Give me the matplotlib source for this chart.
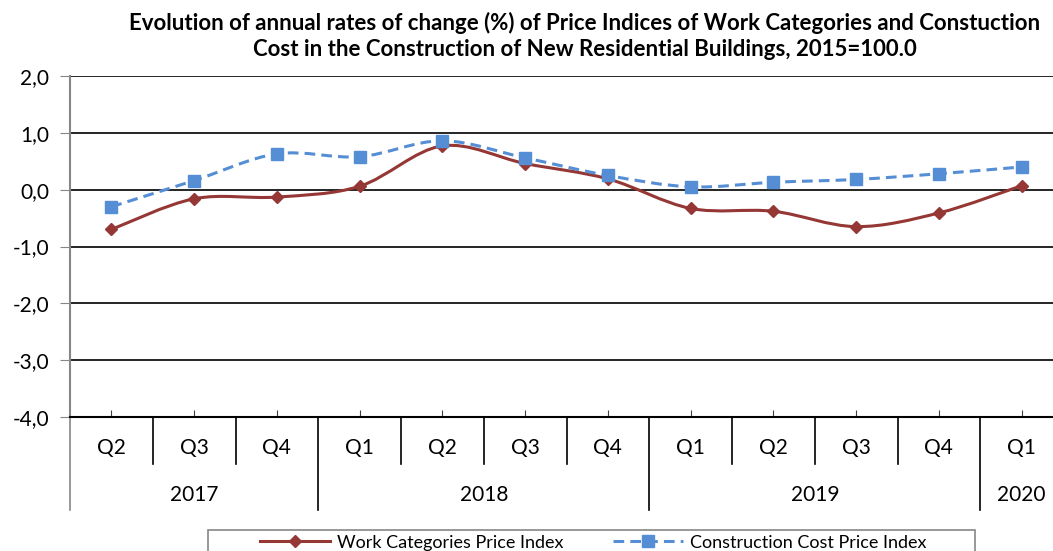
import numpy as np
import matplotlib
matplotlib.use("Agg")
import matplotlib.pyplot as plt
from matplotlib.path import Path
from matplotlib.patches import PathPatch, Rectangle
from matplotlib.lines import Line2D
import matplotlib.transforms as mtransforms

plt.rcParams['font.family'] = ['Lato', 'DejaVu Sans']

# data
quarters = ['Q2', 'Q3', 'Q4', 'Q1', 'Q2', 'Q3', 'Q4', 'Q1', 'Q2', 'Q3', 'Q4', 'Q1']
years = ['2017', '2018', '2019', '2020']
year_counts = [3, 4, 4, 1]
work_idx = [-0.70, -0.16, -0.13, 0.06, 0.77, 0.46, 0.19, -0.33, -0.38, -0.65, -0.41, 0.07]
cost_idx = [-0.30, 0.16, 0.63, 0.58, 0.86, 0.56, 0.25, 0.05, 0.13, 0.18, 0.28, 0.40]

RED = '#953735'
BLUE = '#558ED5'


def smooth_path(x, y):
    # cubic bezier through the points (like excel's smoothed line)
    pts = np.column_stack([x, y]).astype(float)
    n = len(pts)
    verts = [pts[0]]
    codes = [Path.MOVETO]
    for i in range(n - 1):
        p0 = pts[i - 1] if i > 0 else pts[i]
        p1 = pts[i]
        p2 = pts[i + 1]
        p3 = pts[i + 2] if i + 2 < n else pts[i + 1]
        c1 = p1 + (p2 - p0) / 6.0
        c2 = p2 - (p3 - p1) / 6.0
        verts += [c1, c2, p2]
        codes += [Path.CURVE4] * 3
    return Path(verts, codes)


W, H = 1053, 551
fig = plt.figure(figsize=(W / 100, H / 100), dpi=100)
ax = fig.add_axes([70 / W, (H - 417) / H, (1063 - 70) / W, (417 - 76) / H])

x = np.arange(len(quarters))
DASH = (0, (3.5, 2))

ax.add_patch(PathPatch(smooth_path(x, work_idx), fill=False, edgecolor=RED, lw=2.2, zorder=3))
ax.plot(x, work_idx, ls='none', marker='D', ms=6, color=RED, zorder=4)
ax.add_patch(PathPatch(smooth_path(x, cost_idx), fill=False, edgecolor=BLUE, lw=2.2,
                       ls=DASH, zorder=3))
ax.plot(x, cost_idx, ls='none', marker='s', ms=8, color=BLUE, zorder=4)

ax.set_xlim(-0.5, len(quarters) - 0.5)
ax.set_ylim(-4, 2)
yt = np.arange(-4, 2.1, 1)
ax.set_yticks(yt)
ax.set_yticklabels([f'{v:.1f}'.replace('.', ',') for v in yt], fontsize=15)
ax.yaxis.grid(True, color='black', lw=1.2)
ax.set_axisbelow(True)
ax.tick_params(axis='y', length=7, color='#868686', pad=8)
ax.set_xticks(x)
ax.set_xticklabels([])
ax.tick_params(axis='x', direction='in', length=5, color='#404040')

for s in ['top', 'right']:
    ax.spines[s].set_visible(False)
ax.spines['left'].set_color('#868686')
ax.spines['left'].set_linewidth(1.5)
ax.spines['bottom'].set_color('black')
ax.spines['bottom'].set_linewidth(1.5)

# multi-level category axis
trans = mtransforms.blended_transform_factory(ax.transData, ax.transAxes)
q_low = -47 / 341
y_low = -93 / 341
for i, q in enumerate(quarters):
    ax.text(i, -31 / 341, q, transform=trans, ha='center', va='center', fontsize=15)

start = 0
for yr, cnt in zip(years, year_counts):
    ax.text(start + (cnt - 1) / 2, -78 / 341, yr, transform=trans,
            ha='center', va='center', fontsize=15)
    start += cnt

bounds = np.cumsum([0] + year_counts)
for b in range(len(quarters)):
    bottom = y_low if b in bounds else q_low
    col = '#868686' if b == 0 else 'black'
    ax.add_line(Line2D([b - 0.5, b - 0.5], [0, bottom], transform=trans, color=col,
                       lw=1.2, clip_on=False))

fig.text(585 / W, 1 - 36 / H,
         'Evolution of annual rates of change (%) of Price Indices of Work Categories and Constuction\n'
         'Cost in the Construction of New Residential Buildings, 2015=100.0',
         ha='center', va='center', fontsize=16, fontweight='bold', linespacing=1.25)

# legend box drawn separately, entries placed inside it
fig.patches.append(Rectangle((208 / W, -0.05), (975 - 208) / W, 0.05 + 21 / H,
                             transform=fig.transFigure, fill=False, edgecolor='#868686',
                             lw=1.2))
handles = [Line2D([], [], color=RED, lw=2.2, marker='D', ms=6),
           Line2D([], [], color=BLUE, lw=2.2, ls=DASH, marker='s', ms=8)]
leg = fig.legend(handles, ['Work Categories Price Index', 'Construction Cost Price Index'],
                 loc='upper left', bbox_to_anchor=(256 / W, 20 / H),
                 ncol=2, fontsize=13, handlelength=3.9, handletextpad=0.4,
                 columnspacing=2.7, frameon=False, borderaxespad=0, borderpad=0.2)

fig.savefig('out.png', dpi=100)
